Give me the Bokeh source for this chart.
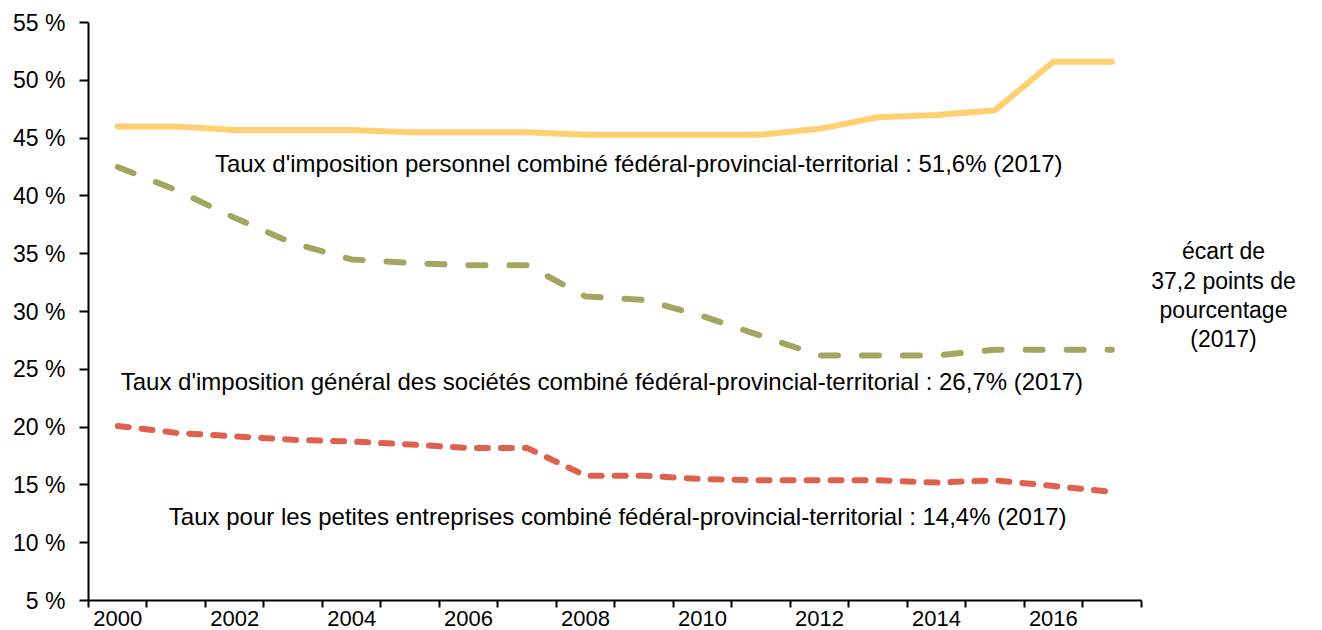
from bokeh.plotting import figure
from bokeh.models import Range1d, FixedTicker, Label, PrintfTickFormatter
from bokeh.embed import file_html
from bokeh.resources import INLINE

years = list(range(2000, 2018))
personnel = [46.0, 46.0, 45.7, 45.7, 45.7, 45.5, 45.5, 45.5, 45.3, 45.3, 45.3, 45.3, 45.8, 46.8, 47.0, 47.4, 51.6, 51.6]
general = [42.5, 40.5, 38.1, 35.9, 34.5, 34.2, 34.0, 34.0, 31.3, 31.0, 29.6, 27.9, 26.2, 26.2, 26.2, 26.7, 26.7, 26.7]
petites = [20.1, 19.5, 19.2, 18.9, 18.75, 18.5, 18.2, 18.2, 15.8, 15.8, 15.5, 15.4, 15.4, 15.4, 15.2, 15.4, 14.9, 14.4]

y_ticks = [5, 10, 15, 20, 25, 30, 35, 40, 45, 50, 55]
x_label_years = [2000, 2002, 2004, 2006, 2008, 2010, 2012, 2014, 2016]
x_boundaries = [y - 0.5 for y in range(2000, 2019)]

lbl_personnel = "Taux d'imposition personnel combiné fédéral-provincial-territorial : 51,6% (2017)"
lbl_general = "Taux d'imposition général des sociétés combiné fédéral-provincial-territorial : 26,7% (2017)"
lbl_petites = "Taux pour les petites entreprises combiné fédéral-provincial-territorial : 14,4% (2017)"
lbl_ecart = "écart de\n37,2 points de\npourcentage\n(2017)"

FONT = "Liberation Sans"
AXFS = "23px"
XFS = "22px"
ANFS = "24px"

p = figure(width=1316, height=630, output_backend="svg", toolbar_location=None,
           x_range=Range1d(1999.5, 2020.5), y_range=Range1d(5, 55),
           min_border_left=88, min_border_right=0, min_border_top=22, min_border_bottom=30)
p.outline_line_color = None
p.grid.visible = False
p.background_fill_color = "white"
p.border_fill_color = "white"

p.line(years, personnel, line_color="#FFD071", line_width=6, line_cap="round", line_join="round")
p.line(years, general, line_color="#A3A660", line_width=6, line_cap="round", line_join="round",
       line_dash="17 24")
p.line(years, petites, line_color="#E0604F", line_width=6, line_cap="round", line_join="round",
       line_dash="11 13")

# axes
xa = p.xaxis[0]
xa.bounds = (1999.5, 2017.5)
xa.ticker = FixedTicker(ticks=x_label_years, minor_ticks=x_boundaries)
xa.major_tick_out = 0
xa.major_tick_in = 0
xa.minor_tick_out = 7
xa.minor_tick_in = 0
xa.minor_tick_line_color = "black"
xa.minor_tick_line_width = 2
xa.axis_line_color = "black"
xa.axis_line_width = 2
xa.major_label_text_font = FONT
xa.major_label_text_font_size = XFS
xa.major_label_text_color = "black"
xa.major_label_standoff = 3

ya = p.yaxis[0]
ya.ticker = FixedTicker(ticks=y_ticks, minor_ticks=[])
ya.formatter = PrintfTickFormatter(format="%d %%")
ya.major_tick_out = 9
ya.major_tick_in = 0
ya.major_tick_line_color = "black"
ya.major_tick_line_width = 2
ya.minor_tick_out = 0
ya.minor_tick_in = 0
ya.axis_line_color = "black"
ya.axis_line_width = 2
ya.major_label_text_font = FONT
ya.major_label_text_font_size = AXFS
ya.major_label_text_color = "black"
ya.major_label_standoff = 14

for txt, x, y in [(lbl_personnel, 2008.91, 42.8), (lbl_general, 2008.28, 23.94), (lbl_petites, 2008.55, 12.27)]:
    p.add_layout(Label(x=x, y=y, text=txt, text_font=FONT, text_font_size=ANFS, text_color="black",
                       text_align="center", text_baseline="middle"))

p.add_layout(Label(x=2018.91, y=31.4, text=lbl_ecart, text_font=FONT, text_font_size=AXFS, text_color="black",
                   text_align="center", text_baseline="middle", text_line_height=1.13))

open("out.html", "w").write(file_html(p, INLINE))
